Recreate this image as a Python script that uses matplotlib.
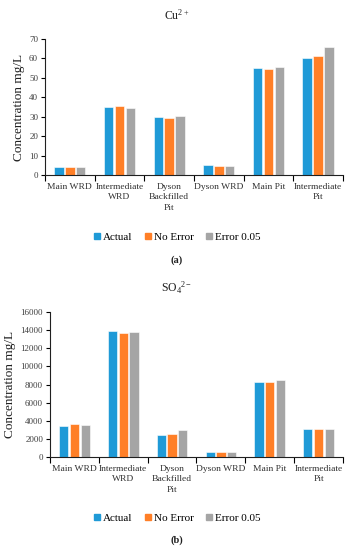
import matplotlib
matplotlib.use("Agg")
import matplotlib.pyplot as plt
import numpy as np
from matplotlib.lines import Line2D

plt.rcParams['font.family'] = ['Liberation Serif', 'DejaVu Serif']
plt.rcParams['mathtext.fontset'] = 'custom'
plt.rcParams['mathtext.rm'] = 'Liberation Serif'
plt.rcParams['mathtext.it'] = 'Liberation Serif:italic'
plt.rcParams['mathtext.default'] = 'regular'

categories = ["Main WRD", "Intermediate\nWRD", "Dyson\nBackfilled\nPit", "Dyson WRD", "Main Pit", "Intermediate\nPit"]
series_names = ["Actual", "No Error", "Error 0.05"]
colors = ["#1F9AD7", "#FF7F27", "#A5A5A5"]

cu_actual = [4.1, 35.0, 30.0, 4.9, 55.3, 60.1]
cu_noerr = [4.1, 35.7, 29.2, 4.6, 54.5, 61.3]
cu_err = [4.1, 34.5, 30.6, 4.6, 55.8, 65.9]

so4_actual = [3450, 13850, 2450, 550, 8250, 3050]
so4_noerr = [3600, 13670, 2530, 550, 8250, 3050]
so4_err = [3530, 13740, 2970, 550, 8500, 3120]

cu_ticks = [0, 10, 20, 30, 40, 50, 60, 70]
so4_ticks = [0, 2000, 4000, 6000, 8000, 10000, 12000, 14000, 16000]

fig = plt.figure(figsize=(3.53, 5.50), dpi=100)


def panel(rect, data, ticks, title, title_y, legend_y, label, label_y):
    ax = fig.add_axes(rect)
    x = np.arange(len(categories))
    pitch = 0.22
    for i, (vals, c, n) in enumerate(zip(data, colors, series_names)):
        ax.bar(x + (i - 1) * pitch, vals, width=0.19, color=c,
               edgecolor="white", linewidth=0.4, label=n, zorder=2)
    ax.set_xlim(-0.5, len(categories) - 0.5)
    ax.set_ylim(ticks[0], ticks[-1])
    ax.set_yticks(ticks)
    ax.set_yticklabels([str(t) for t in ticks], fontsize=6.5, color="#404040")
    ax.set_xticks(np.arange(len(categories) + 1) - 0.5)
    ax.set_xticklabels([])
    ax.set_xticks(x, minor=True)
    ax.set_xticklabels(categories, minor=True, fontsize=6.8, color="#303030",
                       linespacing=1.45, va="top")
    ax.tick_params(axis="x", which="minor", length=0, pad=5.5)
    ax.tick_params(axis="x", which="major", length=4, width=0.8, direction="out")
    ax.tick_params(axis="y", length=3, width=0.8, direction="out", pad=2)
    for s in ["top", "right"]:
        ax.spines[s].set_visible(False)
    for s in ["left", "bottom"]:
        ax.spines[s].set_linewidth(0.8)
        ax.spines[s].set_color("#202020")
    ax.set_ylabel("Concentration mg/L", fontsize=9.5, color="#202020", labelpad=3)
    fig.text(0.5, title_y, title, ha="center", va="center", fontsize=8.5, color="#202020")
    handles = [Line2D([], [], marker="s", linestyle="", markersize=5,
                      markerfacecolor=c, markeredgecolor=c) for c in colors]
    fig.legend(handles, series_names, loc="center", bbox_to_anchor=(0.5, legend_y),
               ncol=3, frameon=False, fontsize=8, handletextpad=0.1,
               columnspacing=1.0, handlelength=0.8)
    fig.text(0.5, label_y, label, ha="center", va="center", fontsize=7.5,
             fontweight="bold", color="#202020")
    return ax


panel([0.1275, 0.6818, 0.844, 0.2473], [cu_actual, cu_noerr, cu_err], cu_ticks,
      r"Cu$^{2+}$", 1 - 15 / 550, 1 - 237 / 550, "(a)", 1 - 260 / 550)
panel([0.1416, 0.1691, 0.830, 0.2636], [so4_actual, so4_noerr, so4_err], so4_ticks,
      r"SO$_{4}$$^{2-}$", 1 - 288 / 550, 1 - 518 / 550, "(b)", 1 - 540 / 550)

fig.savefig("out.png", dpi=100, facecolor="white")
